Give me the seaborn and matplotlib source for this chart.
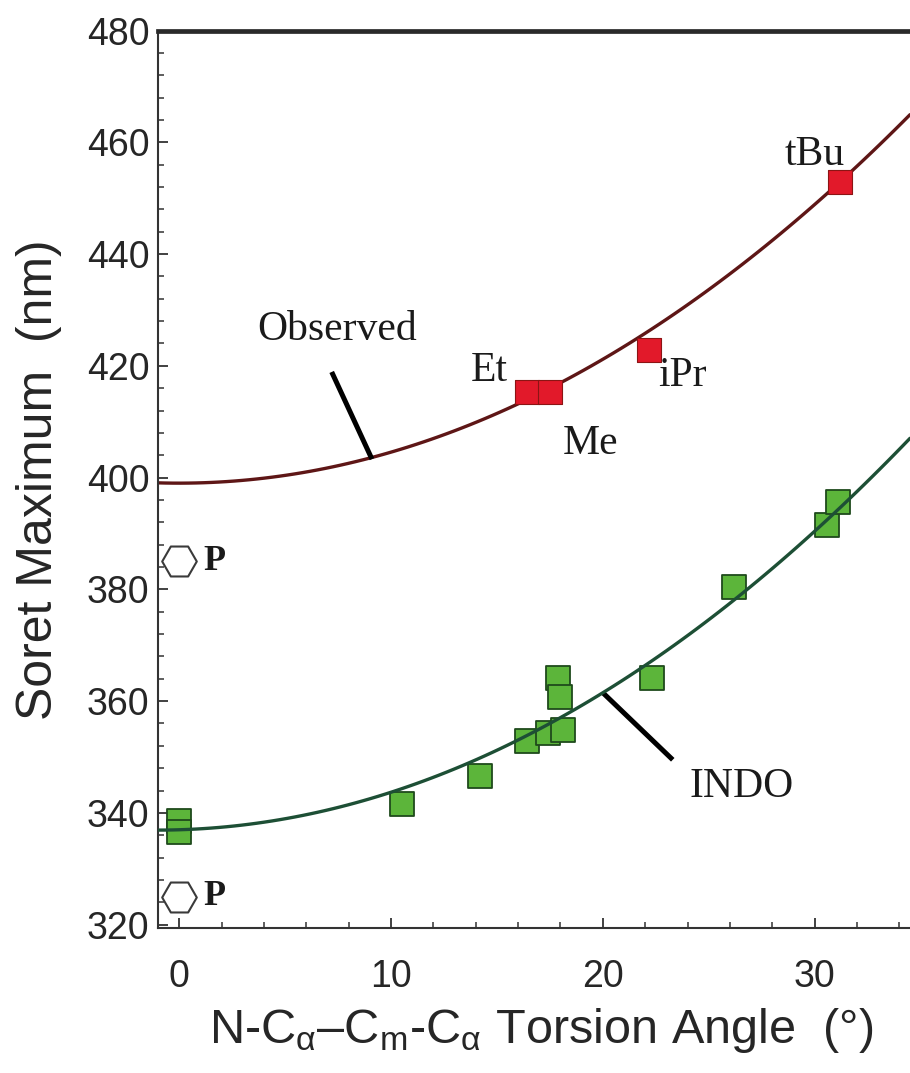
import matplotlib
matplotlib.use('Agg')
import matplotlib.pyplot as plt
from matplotlib.ticker import MultipleLocator
import seaborn as sns

# Observed Soret maxima (red squares)
OBS_LABELS = ['Et', 'Me', 'iPr', 'tBu']
obs_angle = [16.4, 17.5, 22.2, 31.2]
obs_soret = [415.4, 415.4, 422.8, 452.9]

# INDO calculated maxima (green squares)
indo_angle = [0.0, 0.0, 10.5, 14.2, 16.4, 17.4, 18.1, 17.9, 18.0, 22.3, 26.2, 30.6, 31.1]
indo_soret = [338.5, 336.5, 341.6, 346.6, 352.9, 354.3, 354.9, 364.2, 360.7, 364.2, 380.4, 391.5, 395.6]

# planar reference "P" (open hexagons)
p_angle = [0.0, 0.0]
p_soret = [385.0, 325.0]

# fitted curves
curve_angle = [-1, 0, 2, 4, 6, 8, 10, 12, 14, 16, 18, 20, 22, 24, 26, 28, 30, 32, 34, 35]
obs_curve = [399.1, 399.0, 399.2, 399.9, 401.0, 402.5, 404.5, 407.0, 409.9, 413.2,
             417.0, 421.2, 425.8, 430.9, 436.5, 442.4, 448.9, 455.7, 463.0, 466.9]
indo_curve = [337.0, 337.0, 337.4, 338.3, 339.7, 341.4, 343.6, 346.4, 349.5, 353.0,
              357.0, 361.5, 366.4, 371.8, 377.6, 383.8, 390.5, 397.4, 405.0, 409.0]

XLIM = (-1.0, 34.5)
YLIM = (319.4, 480)

sns.set_style('ticks')
plt.rcParams['font.family'] = ['Liberation Sans', 'DejaVu Sans']
plt.rcParams['mathtext.fontset'] = 'custom'
plt.rcParams['mathtext.rm'] = 'Liberation Sans'
plt.rcParams['mathtext.it'] = 'Liberation Sans:italic'

fig = plt.figure(figsize=(9.1, 10.73), dpi=100)
ax = fig.add_axes([158 / 910, 1 - 928 / 1073, 1 - 158 / 910, (928 - 30.5) / 1073])
ax.set_xlim(*XLIM)
ax.set_ylim(*YLIM)

# curves
sns.regplot(x=curve_angle, y=obs_curve, order=2, scatter=False, ci=None, truncate=False,
            line_kws=dict(color='#5e1616', lw=2.4, zorder=2), ax=ax)
sns.regplot(x=curve_angle, y=indo_curve, order=2, scatter=False, ci=None, truncate=False,
            line_kws=dict(color='#1d4f35', lw=2.4, zorder=4), ax=ax)

# points
sns.scatterplot(x=indo_angle, y=indo_soret, marker='s', s=300, color='#5cb53a',
                edgecolor='#1f4a1c', linewidth=1.3, zorder=3, ax=ax)
sns.scatterplot(x=obs_angle, y=obs_soret, marker='s', s=290, color='#e2192a',
                edgecolor='#8c1414', linewidth=0.8, zorder=3, ax=ax)
sns.scatterplot(x=p_angle, y=p_soret, marker='H', s=620, color='white',
                edgecolor='#3a3a3a', linewidth=1.5, zorder=3, ax=ax)
ax.set_xlim(*XLIM)
ax.set_ylim(*YLIM)

# annotations
serif = dict(family='Liberation Serif', fontsize=30, color='#1a1a1a')
ax.text(7.45, 426.4, 'Observed', ha='center', va='center', **serif)
ax.plot([7.2, 9.1], [418.9, 403.3], color='black', lw=3.6, solid_capstyle='butt')
ax.text(15.5, 419.2, OBS_LABELS[0], ha='right', va='center', **serif)
ax.text(18.1, 406.0, OBS_LABELS[1], ha='left', va='center', **serif)
ax.text(22.6, 418.2, OBS_LABELS[2], ha='left', va='center', **serif)
ax.text(30.0, 457.7, OBS_LABELS[3], ha='center', va='center', **serif)
ax.text(24.1, 344.7, 'INDO', ha='left', va='center', **serif)
ax.plot([20.0, 23.3], [361.5, 349.5], color='black', lw=3.6, solid_capstyle='butt')
for yv in p_soret:
    ax.text(1.15, yv, 'P', ha='left', va='center', family='Liberation Serif',
            fontsize=26, fontweight='bold', color='#1a1a1a')

# axes styling
ax.xaxis.set_major_locator(MultipleLocator(10))
ax.xaxis.set_minor_locator(MultipleLocator(2))
ax.yaxis.set_major_locator(MultipleLocator(20))
ax.yaxis.set_minor_locator(MultipleLocator(4))
ax.tick_params(which='both', direction='in', top=False, right=False, color='#333333')
ax.tick_params(which='major', length=7, width=1.3)
ax.tick_params(which='minor', length=4, width=1.1)
ax.tick_params(axis='y', labelsize=27, pad=6)
ax.tick_params(axis='x', labelsize=27, pad=22)
for side in ['left', 'bottom']:
    ax.spines[side].set_linewidth(1.5)
    ax.spines[side].set_color('#333333')
ax.spines['top'].set_visible(True)
ax.spines['top'].set_linewidth(3.4)
ax.spines['top'].set_color('#2a2a2a')
ax.spines['right'].set_visible(False)

ax.set_ylabel('Soret Maximum  (nm)', fontsize=36)
ax.yaxis.set_label_coords((62 - 158) / 752, 0.5)
ax.set_xlabel(r'N-C$_\mathregular{α}$–C$_\mathregular{m}$-C$_\mathregular{α}$ Torsion Angle  (°)',
              fontsize=35)
ax.xaxis.set_label_coords(0.509, (928 - 1006) / 897.5)

fig.savefig('out.png', dpi=100)
